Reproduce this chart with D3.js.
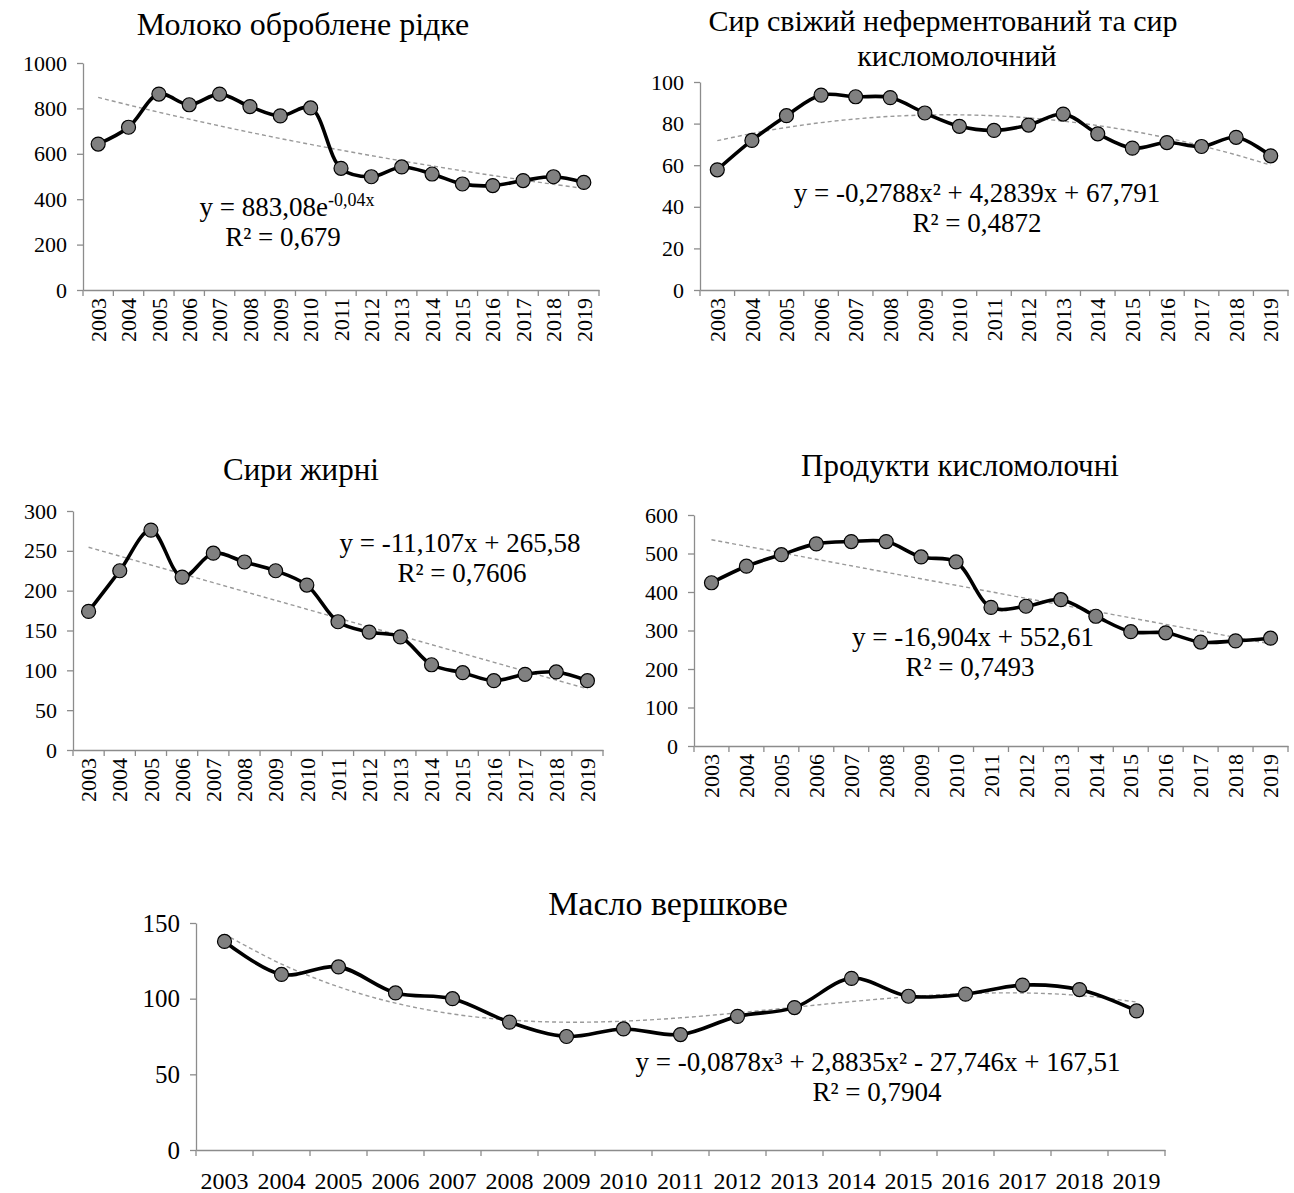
<!DOCTYPE html>
<html>
<head>
<meta charset="utf-8">
<script src="https://cdn.jsdelivr.net/npm/d3@7"></script>
<style>
  body { margin: 0; background: #fff; }
  svg { display: block; }
</style>
</head>
<body>
<script>
// data
const years = d3.range(2003, 2020).map(String)

const milkValues = [643, 717, 863, 816, 863, 808, 767, 802, 536, 499, 542, 511, 467, 460, 482, 499, 474]
const cottageValues = [57.8, 71.9, 83.8, 93.7, 92.9, 92.5, 85.1, 78.7, 76.7, 79.3, 84.6, 75.1, 68.2, 70.9, 69.0, 73.4, 64.5]
const cheeseValues = [174, 225, 276, 217, 247, 236, 225, 207, 161, 148, 142, 107, 97, 87, 95, 98, 87]
const fermentedValues = [424, 467, 497, 525, 531, 531, 491, 478, 360, 363, 380, 337, 297, 294, 270, 273, 280]
const butterValues = [137.8, 116, 121, 103.8, 100, 84.5, 75, 80, 76.3, 88.3, 94.1, 113.4, 101.6, 103, 109, 106, 91.9]

// trend coefficients as printed on the chart
const milkTrend = { type: "exp", a: 883.08, b: -0.04 }
const cottageTrend = { type: "poly", c: [67.791, 4.2839, -0.2788] }
const cheeseTrend = { type: "poly", c: [265.58, -11.107] }
const fermentedTrend = { type: "poly", c: [552.61, -16.904] }
const butterTrend = { type: "poly", c: [167.51, -27.746, 2.8835, -0.0878] }

const milkTicks = [0, 200, 400, 600, 800, 1000]
const cottageTicks = [0, 20, 40, 60, 80, 100]
const cheeseTicks = [0, 50, 100, 150, 200, 250, 300]
const fermentedTicks = [0, 100, 200, 300, 400, 500, 600]
const butterTicks = [0, 50, 100, 150]

const font = "Liberation Serif, Times New Roman, serif"

const svg = d3.select("body")
  .append("svg")
    .attr("width", 1294)
    .attr("height", 1193)

function trendValue(t, x) {
  if (t.type == "exp") return t.a * Math.exp(t.b * x)
  return t.c.reduce((s, c, i) => s + c * Math.pow(x, i), 0)
}

function drawPanel(p) {
  const g = svg.append("g")

  const xScale = d3.scaleBand()
    .domain(years)
    .range([p.left, p.right])

  const yScale = d3.scaleLinear()
    .domain([0, d3.max(p.ticks)])
    .range([p.bottom, p.top])

  const cx = d => xScale(d) + xScale.bandwidth() / 2

  // titles
  p.title.forEach((t, i) => {
    g.append("text")
      .attr("x", p.titleX[i])
      .attr("y", p.titleY[i])
      .attr("text-anchor", "middle")
      .attr("font-family", font)
      .attr("font-size", p.titleFont)
      .text(t)
  })

  // y axis
  const yAxis = g.append("g")
    .attr("transform", `translate(${p.left},0)`)
    .call(d3.axisLeft(yScale).tickValues(p.ticks).tickFormat(d3.format("d"))
      .tickSize(6).tickSizeOuter(0).tickPadding(10))
  yAxis.attr("font-family", font).attr("font-size", p.yFont)
  yAxis.selectAll("path, line").attr("stroke", "#8c8c8c").attr("stroke-width", 1.3)
  yAxis.selectAll("text").attr("fill", "#000")

  // x axis
  const xAxis = g.append("g")
    .attr("transform", `translate(0,${p.bottom})`)
    .call(d3.axisBottom(xScale).tickSize(0).tickSizeOuter(0).tickPadding(p.rotate ? 8 : 22))
  xAxis.attr("font-family", font).attr("font-size", p.xFont)
  xAxis.select(".domain").attr("stroke", "#8c8c8c").attr("stroke-width", 1.3)
  xAxis.selectAll("text").attr("fill", "#000")
  if (p.rotate) {
    xAxis.selectAll("text")
      .attr("transform", "rotate(-90)")
      .attr("text-anchor", "end")
      .attr("x", -8)
      .attr("y", 0)
      .attr("dy", "0.35em")
  }
  xAxis.selectAll(".boundary")
    .data(years.concat([null]))
    .enter().append("line")
      .attr("class", "boundary")
      .attr("x1", d => d ? xScale(d) : p.right)
      .attr("x2", d => d ? xScale(d) : p.right)
      .attr("y1", 0)
      .attr("y2", 6)
      .attr("stroke", "#8c8c8c")
      .attr("stroke-width", 1.3)

  // trend line
  const trendData = years.map((yr, i) => ({ yr: yr, v: trendValue(p.trend, i + 1) }))
  g.append("path")
    .datum(trendData)
    .attr("fill", "none")
    .attr("stroke", "#9a9a9a")
    .attr("stroke-width", 1.4)
    .attr("stroke-dasharray", "4,3")
    .attr("d", d3.line().x(d => cx(d.yr)).y(d => yScale(d.v)).curve(d3.curveCatmullRom))

  // data line
  const data = years.map((yr, i) => ({ yr: yr, v: p.values[i] }))
  g.append("path")
    .datum(data)
    .attr("fill", "none")
    .attr("stroke", "#000")
    .attr("stroke-width", 3.6)
    .attr("stroke-linejoin", "round")
    .attr("d", d3.line().x(d => cx(d.yr)).y(d => yScale(d.v)).curve(d3.curveCatmullRom.alpha(0.5)))

  g.selectAll(".dot")
    .data(data)
    .enter().append("circle")
      .attr("class", "dot")
      .attr("cx", d => cx(d.yr))
      .attr("cy", d => yScale(d.v))
      .attr("r", 7)
      .attr("fill", "#808080")
      .attr("stroke", "#000")
      .attr("stroke-width", 1.2)

  // equation
  const eq = g.append("text")
    .attr("x", p.eqX)
    .attr("y", p.eqY)
    .attr("text-anchor", "middle")
    .attr("font-family", font)
    .attr("font-size", 27)
  p.equation.forEach(part => {
    eq.append("tspan")
      .attr("baseline-shift", part.sup ? "super" : null)
      .attr("font-size", part.sup ? 18 : null)
      .text(part.t)
  })
  g.append("text")
    .attr("x", p.r2X)
    .attr("y", p.eqY + 30)
    .attr("text-anchor", "middle")
    .attr("font-family", font)
    .attr("font-size", 27)
    .text(p.r2)
}

drawPanel({
  title: ["Молоко оброблене рідке"], titleX: [303], titleY: [35], titleFont: 32,
  values: milkValues, ticks: milkTicks, trend: milkTrend,
  left: 83, right: 599, top: 63, bottom: 290, rotate: true, yFont: 22, xFont: 22,
  equation: [{ t: "y = 883,08e" }, { t: "-0,04x", sup: true }], eqX: 287, eqY: 216,
  r2: "R² = 0,679", r2X: 283,
})

drawPanel({
  title: ["Сир свіжий неферментований та сир", "кисломолочний"], titleX: [943, 957], titleY: [31, 66], titleFont: 30,
  values: cottageValues, ticks: cottageTicks, trend: cottageTrend,
  left: 700, right: 1288, top: 82, bottom: 290, rotate: true, yFont: 22, xFont: 22,
  equation: [{ t: "y = -0,2788x² + 4,2839x + 67,791" }], eqX: 977, eqY: 202,
  r2: "R² = 0,4872", r2X: 977,
})

drawPanel({
  title: ["Сири жирні"], titleX: [301], titleY: [480], titleFont: 31,
  values: cheeseValues, ticks: cheeseTicks, trend: cheeseTrend,
  left: 73, right: 603, top: 511, bottom: 750, rotate: true, yFont: 22, xFont: 22,
  equation: [{ t: "y = -11,107x + 265,58" }], eqX: 460, eqY: 552,
  r2: "R² = 0,7606", r2X: 462,
})

drawPanel({
  title: ["Продукти кисломолочні"], titleX: [960], titleY: [476], titleFont: 31,
  values: fermentedValues, ticks: fermentedTicks, trend: fermentedTrend,
  left: 694, right: 1288, top: 515, bottom: 746, rotate: true, yFont: 22, xFont: 22,
  equation: [{ t: "y = -16,904x + 552,61" }], eqX: 973, eqY: 646,
  r2: "R² = 0,7493", r2X: 970,
})

drawPanel({
  title: ["Масло вершкове"], titleX: [668], titleY: [915], titleFont: 34,
  values: butterValues, ticks: butterTicks, trend: butterTrend,
  left: 196, right: 1165, top: 923, bottom: 1150, rotate: false, yFont: 25, xFont: 24,
  equation: [{ t: "y = -0,0878x³ + 2,8835x² - 27,746x + 167,51" }], eqX: 878, eqY: 1071,
  r2: "R² = 0,7904", r2X: 877,
})
</script>
</body>
</html>
